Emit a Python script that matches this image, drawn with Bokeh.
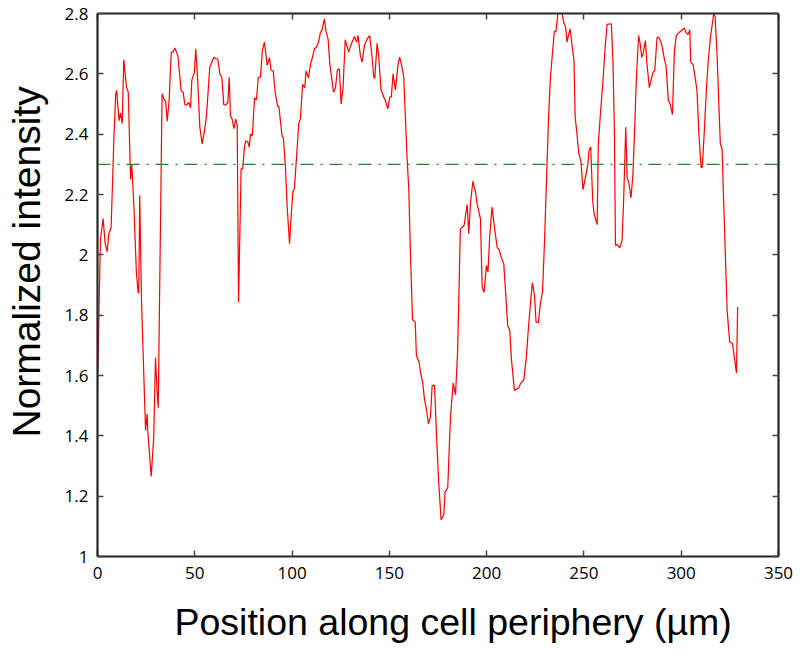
import math
from bokeh.plotting import figure
from bokeh.models import LinearAxis, FixedTicker, Span, Title
from bokeh.embed import file_html
from bokeh.resources import INLINE

# ---- data ----
position = [0.0, 1.5, 2.9, 3.9, 5.0, 5.8, 7.0, 8.4, 9.3, 9.8, 11.1, 11.8, 12.7, 13.5, 14.9, 15.8,
            17.0, 17.6, 18.7, 20.0, 20.9, 21.2, 21.7, 22.6, 24.7, 25.5, 25.9, 27.6, 28.9, 29.8,
            30.6, 31.2, 33.2, 34.1, 35.0, 35.8, 36.8, 37.9, 38.9, 39.7, 41.3, 43.0, 44.0, 44.9,
            46.0, 46.8, 47.8, 48.5, 49.8, 50.5, 51.5, 52.6, 53.8, 55.0, 56.0, 57.7, 59.8, 60.6,
            61.8, 62.9, 63.9, 64.9, 66.1, 67.0, 67.7, 68.3, 69.2, 70.1, 71.0, 71.8, 72.5, 73.8,
            74.6, 75.5, 76.2, 77.2, 78.0, 78.6, 79.6, 80.7, 81.7, 82.6, 83.8, 84.7, 85.8, 87.2,
            88.4, 89.2, 90.3, 91.3, 92.6, 93.2, 94.9, 95.5, 96.6, 97.5, 98.7, 99.5, 100.4, 101.2,
            102.3, 103.4, 104.3, 105.4, 106.5, 107.2, 108.4, 109.5, 110.3, 111.5, 112.6, 113.7,
            114.6, 115.4, 116.6, 117.5, 118.5, 119.4, 120.3, 121.3, 122.3, 123.3, 124.3, 125.2,
            126.2, 127.3, 129.1, 130.5, 132.1, 133.1, 133.9, 135.1, 136.0, 137.2, 138.6, 139.9,
            141.1, 142.0, 142.5, 143.7, 144.5, 145.7, 147.1, 148.0, 149.2, 150.2, 151.0, 151.9,
            153.1, 154.5, 155.3, 156.5, 157.4, 159.1, 160.0, 160.8, 161.9, 163.3, 163.9, 165.3,
            166.0, 167.2, 168.0, 169.1, 170.1, 171.1, 172.0, 173.2, 174.2, 175.4, 176.6, 178.0,
            178.6, 180.0, 181.4, 182.8, 184.0, 185.1, 186.5, 187.9, 188.5, 190.0, 190.8, 191.7,
            192.9, 194.3, 195.1, 196.8, 197.7, 198.7, 199.9, 200.7, 201.6, 202.8, 204.0, 205.4,
            206.4, 207.6, 208.8, 209.8, 210.8, 211.9, 212.7, 214.3, 215.6, 216.5, 217.4, 219.1,
            220.4, 221.5, 222.5, 223.5, 224.6, 225.4, 226.6, 227.6, 228.7, 229.7, 230.7, 231.9,
            232.8, 233.8, 234.8, 235.6, 236.5, 237.2, 238.2, 238.8, 239.6, 240.6, 241.3, 242.1,
            242.9, 243.9, 244.9, 245.5, 246.2, 247.3, 248.5, 249.5, 250.8, 252.0, 252.6, 253.5,
            254.5, 255.2, 256.2, 256.8, 257.4, 258.5, 259.8, 260.9, 261.9, 264.1, 264.9, 265.7,
            266.2, 267.0, 267.6, 268.4, 269.6, 270.4, 271.5, 272.2, 273.2, 274.2, 275.2, 276.1,
            276.9, 278.1, 278.9, 279.7, 280.4, 281.6, 282.4, 283.6, 284.5, 285.5, 286.4, 287.6,
            288.4, 289.3, 290.3, 291.5, 292.2, 293.4, 294.3, 295.5, 296.5, 297.5, 298.5, 299.6,
            300.6, 301.6, 302.4, 303.5, 304.4, 304.9, 306.1, 307.1, 308.1, 309.1, 310.2, 310.8,
            311.9, 312.9, 313.9, 315.0, 316.0, 316.7, 317.4, 318.4, 319.4, 320.1, 321.0, 321.8,
            322.9, 323.6, 324.9, 326.3, 327.3, 328.4, 329.0]

intensity = [1.56, 2.05, 2.12, 2.04, 2.01, 2.07, 2.09, 2.38, 2.53, 2.545, 2.445, 2.47, 2.435, 2.647,
             2.556, 2.54, 2.25, 2.30, 2.16, 1.94, 1.876, 1.873, 2.197, 1.85, 1.418, 1.473, 1.412,
             1.265, 1.396, 1.659, 1.55, 1.493, 2.534, 2.517, 2.51, 2.443, 2.51, 2.672, 2.672,
             2.686, 2.661, 2.543, 2.54, 2.498, 2.497, 2.506, 2.487, 2.58, 2.605, 2.683, 2.58,
             2.423, 2.368, 2.412, 2.46, 2.622, 2.655, 2.65, 2.65, 2.598, 2.59, 2.498, 2.497, 2.506,
             2.589, 2.462, 2.45, 2.418, 2.45, 2.43, 1.843, 2.285, 2.285, 2.357, 2.378, 2.375,
             2.357, 2.40, 2.396, 2.52, 2.514, 2.587, 2.59, 2.677, 2.705, 2.628, 2.653, 2.611,
             2.61, 2.539, 2.492, 2.492, 2.392, 2.39, 2.29, 2.158, 2.037, 2.125, 2.208, 2.22,
             2.324, 2.434, 2.451, 2.565, 2.554, 2.609, 2.587, 2.633, 2.65, 2.683, 2.689, 2.708,
             2.738, 2.746, 2.782, 2.738, 2.716, 2.633, 2.589, 2.539, 2.554, 2.613, 2.617, 2.50,
             2.554, 2.713, 2.672, 2.70, 2.724, 2.705, 2.727, 2.661, 2.639, 2.694, 2.716, 2.727,
             2.655, 2.589, 2.585, 2.701, 2.661, 2.547, 2.523, 2.51, 2.484, 2.523, 2.523, 2.60,
             2.547, 2.633, 2.655, 2.622, 2.589, 2.324, 2.213, 2.014, 1.785, 1.777, 1.666, 1.644,
             1.61, 1.573, 1.523, 1.485, 1.44, 1.462, 1.567, 1.567, 1.407, 1.241, 1.122, 1.139,
             1.213, 1.228, 1.462, 1.575, 1.536, 1.683, 2.086, 2.094, 2.10, 2.167, 2.07, 2.17,
             2.244, 2.207, 2.169, 2.12, 1.893, 1.876, 1.965, 1.943, 2.064, 2.158, 2.092, 2.025,
             2.017, 1.99, 1.97, 1.871, 1.766, 1.749, 1.656, 1.55, 1.556, 1.559, 1.573, 1.586,
             1.661, 1.76, 1.838, 1.908, 1.865, 1.777, 1.776, 1.838, 1.876, 2.037, 2.235, 2.468,
             2.589, 2.666, 2.741, 2.74, 2.793, 2.83, 2.83, 2.797, 2.771, 2.754, 2.705, 2.73,
             2.749, 2.694, 2.644, 2.456, 2.415, 2.34, 2.307, 2.216, 2.257, 2.30, 2.346, 2.357,
             2.18, 2.136, 2.114, 2.10, 2.368, 2.47, 2.578, 2.688, 2.764, 2.766, 2.644, 2.40,
             2.031, 2.035, 2.03, 2.023, 2.048, 2.18, 2.423, 2.257, 2.235, 2.189, 2.269, 2.423,
             2.578, 2.727, 2.70, 2.655, 2.666, 2.71, 2.633, 2.554, 2.578, 2.605, 2.611, 2.721,
             2.721, 2.71, 2.688, 2.644, 2.628, 2.512, 2.501, 2.465, 2.677, 2.727, 2.735, 2.741,
             2.746, 2.752, 2.738, 2.73, 2.746, 2.639, 2.631, 2.59, 2.545, 2.40, 2.29, 2.29,
             2.412, 2.545, 2.644, 2.721, 2.766, 2.80, 2.79, 2.666, 2.489, 2.368, 2.35, 2.18,
             1.959, 1.816, 1.711, 1.707, 1.661, 1.608, 1.827]

threshold = 2.3

x_ticks = [0, 50, 100, 150, 200, 250, 300, 350]
x_tick_labels = ["0", "50", "100", "150", "200", "250", "300", "350"]
y_ticks = [1, 1.2, 1.4, 1.6, 1.8, 2, 2.2, 2.4, 2.6, 2.8]
y_tick_labels = ["1", "1.2", "1.4", "1.6", "1.8", "2", "2.2", "2.4", "2.6", "2.8"]

x_label = "Position along cell periphery (µm)"
y_label = "Normalized intensity"

# ---- figure ----
p = figure(frame_width=681, frame_height=543, x_range=(0, 350), y_range=(1, 2.8),
           output_backend="svg", toolbar_location=None,
           min_border_left=97, min_border_right=27, min_border_top=13, min_border_bottom=94,
           x_axis_type=None, y_axis_type=None)
p.outline_line_color = None
p.xgrid.visible = False
p.ygrid.visible = False
p.background_fill_color = "white"
p.border_fill_color = "white"

AX_COLOR = "#262626"
TICK_FONT = "Open Sans"


def style_axis(ax, ticks, labels, show_labels):
    ax.ticker = FixedTicker(ticks=ticks)
    ax.minor_tick_line_color = None
    ax.major_tick_in = 6
    ax.major_tick_out = 0
    ax.major_tick_line_color = "#444444"
    ax.major_tick_line_width = 1.5
    ax.axis_line_color = AX_COLOR
    ax.axis_line_width = 2.2
    ax.major_label_overrides = {t: l for t, l in zip(ticks, labels)}
    if show_labels:
        ax.major_label_text_font = TICK_FONT
        ax.major_label_text_font_size = "17px"
        ax.major_label_text_color = "black"
        # invisible spacer label: pushes the title outward without moving tick labels
        ax.axis_label = " "
        ax.axis_label_text_font_size = "1px"
    else:
        ax.major_label_text_font_size = "0px"
        ax.major_label_text_color = None
        ax.major_label_standoff = 0


xb = LinearAxis()
style_axis(xb, x_ticks, x_tick_labels, True)
xb.major_label_standoff = 10
xb.axis_label_standoff = 11
p.add_layout(xb, "below")

xt = LinearAxis()
style_axis(xt, x_ticks, x_tick_labels, False)
p.add_layout(xt, "above")

yl = LinearAxis()
style_axis(yl, y_ticks, y_tick_labels, True)
yl.major_label_standoff = 9
yl.axis_label_standoff = 9
p.add_layout(yl, "left")

yr = LinearAxis()
style_axis(yr, y_ticks, y_tick_labels, False)
p.add_layout(yr, "right")

# data line
p.line(position, intensity, line_color="#ff0000", line_width=1.2)

# threshold line
p.add_layout(Span(location=threshold, dimension="width", line_color="#2f7f2f",
                  line_width=1.1, line_dash="13 7 2 7"))

# axis titles (as Titles so they are drawn outside the frame)
p.add_layout(Title(text=x_label, align="left", offset=77, standoff=4,
                   text_font="Liberation Sans", text_font_size="37.5px",
                   text_font_style="normal", text_color="black"), "below")
p.add_layout(Title(text=y_label, align="left", offset=119, standoff=2,
                   text_font="Liberation Sans", text_font_size="39px",
                   text_font_style="normal", text_color="black"), "left")

open("out.html", "w").write(file_html(p, INLINE))
